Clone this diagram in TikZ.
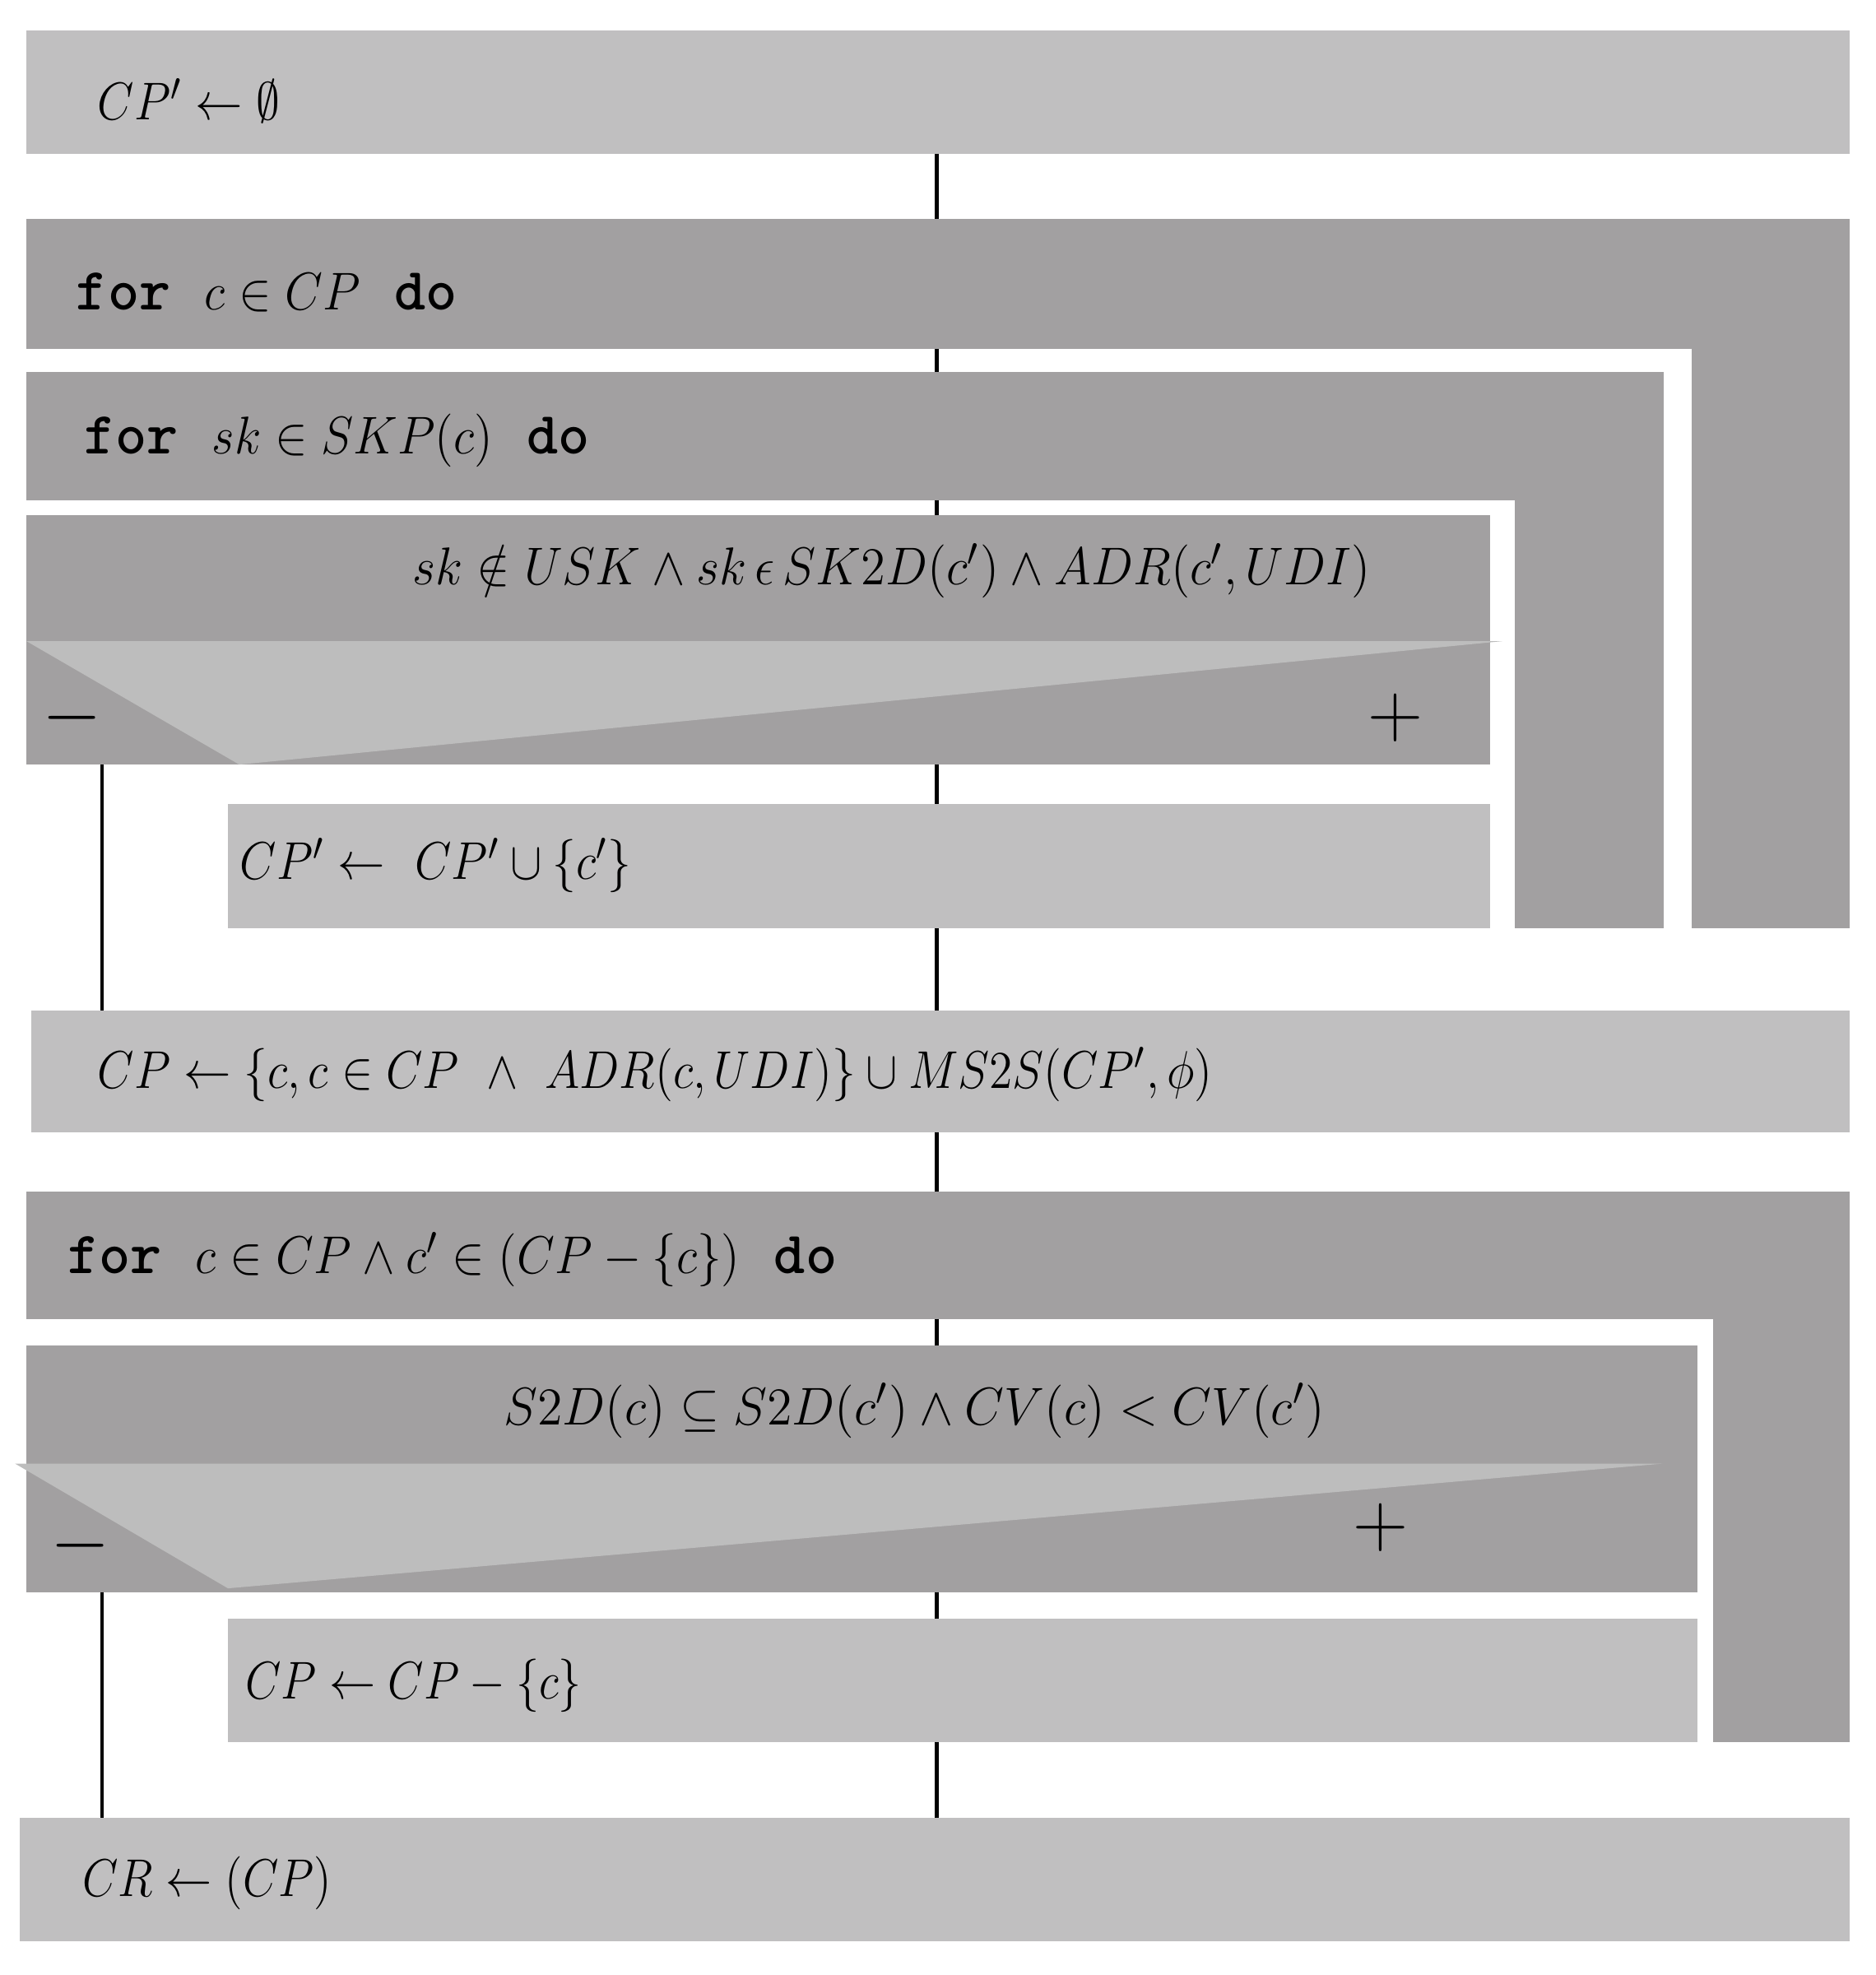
\documentclass[tikz,border=0pt]{standalone}
\usepackage{fontspec}
\usepackage{graphicx}
\usetikzlibrary{fit,calc}
\definecolor{lightg}{HTML}{C0BFC0}
\definecolor{darkg}{HTML}{A2A0A1}
\definecolor{trig}{HTML}{BDBDBD}
\newcommand{\kw}[1]{{\fontsize{13.5}{15}\ttfamily\bfseries #1}}
\newcommand{\nar}[2][0.89]{\scalebox{#1}[1]{#2}}
\newcommand{\gap}{\hspace{0.27cm}}
\begin{document}
\begin{tikzpicture}[x=0.01cm,y=-0.01cm,
  lbox/.style={fill=lightg,draw=none,inner sep=0pt,outer sep=0pt},
  dbox/.style={fill=darkg,draw=none,inner sep=0pt,outer sep=0pt},
  tri/.style={fill=trig,draw=none},
  txt/.style={anchor=west,inner sep=0pt,font=\fontsize{13}{15}\selectfont},
  ctxt/.style={anchor=center,inner sep=0pt,font=\fontsize{13}{15}\selectfont},
  sgn/.style={anchor=center,inner sep=0pt,font=\fontsize{18}{20}\selectfont},
  conn/.style={draw=black,line width=0.9pt}]
\useasboundingbox (0,0) rectangle (1489,1568);
\coordinate (mid) at (744,0);
\coordinate (lft) at (81,0);
% boxes
\node[lbox,fit={(21,24) (1469,122)}] (init) {};
\node[dbox,fit={(21,174) (1469,277)}] (f1h) {};
\node[dbox,fit={(1343,174) (1469,737)}] (f1c) {};
\node[dbox,fit={(21,295) (1321,397)}] (f2h) {};
\node[dbox,fit={(1203,295) (1321,737)}] (f2c) {};
\node[dbox,fit={(21,409) (1183,607)}] (if1) {};
\fill[tri] (21,509) -- (1193,509) -- (190,607) -- cycle;
\node[lbox,fit={(181,638) (1183,737)}] (then1) {};
\node[lbox,fit={(25,802) (1469,899)}] (assign) {};
\node[dbox,fit={(21,946) (1469,1047)}] (f3h) {};
\node[dbox,fit={(1360,946) (1469,1383)}] (f3c) {};
\node[dbox,fit={(21,1068) (1348,1264)}] (if2) {};
\fill[tri] (12,1162) -- (1320,1162) -- (181,1261) -- cycle;
\node[lbox,fit={(181,1285) (1348,1383)}] (then2) {};
\node[lbox,fit={(16,1443) (1469,1541)}] (final) {};
% texts
\node[txt] (t0) at (77,80) {\nar{$CP' \leftarrow \emptyset$}};
\node[txt] (t1) at (60,232) {\kw{for}\gap\nar[0.92]{$c\in CP$}\gap\kw{do}};
\node[txt] (t2) at (66,350) {\kw{for}\gap\nar[0.92]{$sk\in SKP(c)$}\gap\kw{do}};
\node[ctxt] (c1) at (708,453) {\nar[0.94]{$sk\notin USK\wedge sk\,\epsilon\, SK2D(c')\wedge ADR(c',UDI)$}};
\node[sgn] (m1) at (57,570) {$-$};
\node[sgn] (p1) at (1108,570) {$+$};
\node[txt] (t3) at (190,687) {\nar{$CP' \leftarrow\ CP'\cup\{c'\}$}};
\node[txt] (t4) at (77,853) {\nar{$CP\leftarrow\{c,c\in CP\ \wedge\ ADR(c,UDI)\}\cup MS2S(CP',\phi)$}};
\node[txt] (t5) at (53,1000) {\kw{for}\gap\nar[0.92]{$c\in CP\wedge c'\in(CP-\{c\})$}\gap\kw{do}};
\node[ctxt] (c2) at (726,1120) {\nar[0.96]{$S2D(c)\subseteq S2D(c')\wedge CV(c)<CV(c')$}};
\node[sgn] (m2) at (64,1227) {$-$};
\node[sgn] (p2) at (1096,1213) {$+$};
\node[txt] (t6) at (194,1338) {\nar[0.87]{$CP\leftarrow CP-\{c\}$}};
\node[txt] (t7) at (65,1495) {\nar[0.87]{$CR\leftarrow(CP)$}};
% connectors
\draw[conn] (init.south -| mid) -- (f1h.north -| mid);
\draw[conn] (f1h.south -| mid) -- (f2h.north -| mid);
\draw[conn] (f2h.south -| mid) -- (if1.north -| mid);
\draw[conn] (if1.south -| mid) -- (then1.north -| mid);
\draw[conn] (then1.south -| mid) -- (assign.north -| mid);
\draw[conn] (if1.south -| lft) -- (assign.north -| lft);
\draw[conn] (assign.south -| mid) -- (f3h.north -| mid);
\draw[conn] (f3h.south -| mid) -- (if2.north -| mid);
\draw[conn] (if2.south -| mid) -- (then2.north -| mid);
\draw[conn] (then2.south -| mid) -- (final.north -| mid);
\draw[conn] (if2.south -| lft) -- (final.north -| lft);
\end{tikzpicture}
\end{document}
